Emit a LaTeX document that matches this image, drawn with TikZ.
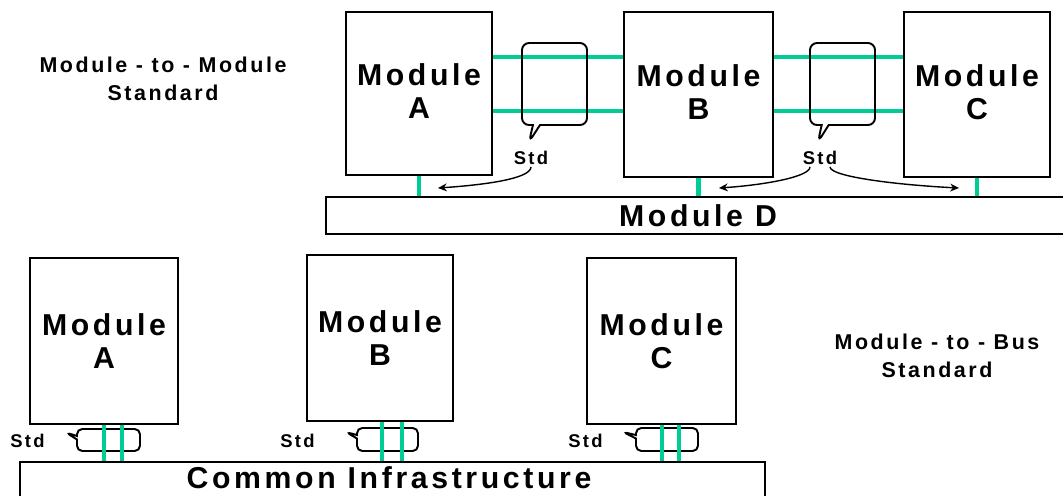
\documentclass[tikz,border=0pt]{standalone}
\usepackage{fontspec}
\setmainfont{Liberation Sans}
\newfontfamily\spacedsans[LetterSpace=12]{Liberation Sans}
\usepackage{tikz}
\usetikzlibrary{positioning,calc}
\usetikzlibrary{arrows.meta,shapes.callouts}
\definecolor{StdGreen}{RGB}{0,204,150}
\newcommand\modfnt{\spacedsans\bfseries\fontsize{17.2}{19}\selectfont}
\newcommand\notefnt{\spacedsans\bfseries\fontsize{12.2}{15.9}\selectfont}
\newcommand\stdfnt{\spacedsans\bfseries\fontsize{10.5}{12}\selectfont}
\tikzset{
  mod/.style={draw=black,line width=1.1pt,minimum width=146*0.02cm,
    minimum height=163*0.02cm,align=center,font=\modfnt,inner sep=0pt},
  bus/.style={draw=black,line width=1.1pt,inner sep=0pt},
  link/.style={draw=StdGreen,line width=2.8pt},
  bubble/.style={rectangle callout,draw=black,line width=1.1pt,
    rounded corners=4pt,callout pointer width=4pt,inner sep=0pt},
  stdtag/.style={font=\stdfnt,inner sep=1pt},
  note/.style={font=\notefnt,align=center},
  wire/.style={draw=black,line width=0.8pt,-{Stealth[length=5pt,width=4.5pt]}},
}

\begin{document}
\begin{tikzpicture}[x=0.02cm,y=-0.02cm]
\useasboundingbox (0,0) rectangle (1063,495);
\clip (0,0) rectangle (1063,495);
% module-to-module
\node[note] (mmnote) at (163,79) {Module - to - Module\\Standard};
\node[mod,text depth=0.1cm] (ta) at (419,93.5) {Module\\A};
\node[mod,text depth=0.1cm,minimum width=149*0.02cm,minimum height=165*0.02cm] (tb) at (698.5,94.5) {Module\\B};
\node[mod,text depth=0.1cm,minimum height=165*0.02cm] (tc) at (977,94.5) {Module\\C};
\node[bus,minimum width=744*0.02cm,minimum height=37*0.02cm,font=\modfnt] (md) at (698,215.5) {Module D};
\coordinate (hi) at (0,57);
\coordinate (lo) at (0,111);
\draw[link] (ta.east |- hi) -- (tb.west |- hi);
\draw[link] (ta.east |- lo) -- (tb.west |- lo);
\draw[link] (tb.east |- hi) -- (tc.west |- hi);
\draw[link] (tb.east |- lo) -- (tc.west |- lo);
\foreach \m in {ta,tb,tc}
  \draw[link] (\m.south) -- (\m.south |- md.north);
\node[bubble,minimum width=65*0.02cm,minimum height=82*0.02cm,
  callout absolute pointer={(529,142)}] (cab) at (554.5,84) {};
\node[bubble,minimum width=65*0.02cm,minimum height=82*0.02cm,
  callout absolute pointer={(818,142)}] (cbc) at (842.5,84) {};
\node[stdtag] (sab) at (531,158) {Std};
\node[stdtag] (sbc) at (820,158) {Std};
\coordinate (pa) at (438,188);
\coordinate (pb) at (719,188);
\coordinate (pc) at (959,188);
\draw[wire] (sab.south) .. controls +(0,12) and +(45,-3) .. (pa);
\draw[wire] ([xshift=-0.2cm]sbc.south) .. controls +(0,10) and +(45,-3) .. (pb);
\draw[wire] ([xshift=0.2cm]sbc.south) .. controls +(0,10) and +(-60,-3) .. (pc);
% module-to-bus
\node[note] (mbnote) at (937,356) {Module - to - Bus\\Standard};
\node[mod,minimum width=148*0.02cm,minimum height=166*0.02cm] (ba) at (104,341) {Module\\A};
\node[mod,minimum height=166*0.02cm] (bb) at (380,338) {Module\\B};
\node[mod,minimum width=149*0.02cm,minimum height=166*0.02cm] (bc) at (661.5,341) {Module\\C};
\node[bus,minimum width=745*0.02cm,minimum height=80*0.02cm,anchor=north] (ci) at (392.5,461) {};
\node[font=\modfnt] (citxt) at (389,477.5) {Common Infrastructure};
\node[bubble,rounded corners=3pt,callout pointer width=2pt,minimum width=63*0.02cm,
  minimum height=22*0.02cm,callout absolute pointer={(66,432.5)}] (ca) at (108.5,440) {};
\node[bubble,rounded corners=3pt,callout pointer width=2pt,minimum width=61*0.02cm,
  minimum height=23*0.02cm,callout absolute pointer={(346,432)}] (cb) at (387.5,439.5) {};
\node[bubble,rounded corners=3pt,callout pointer width=2pt,minimum width=62*0.02cm,
  minimum height=23*0.02cm,callout absolute pointer={(623,432)}] (cc) at (667,439.5) {};
\foreach \m/\dx in {ba/0,ba/18,bb/2,bb/22,bc/0.5,bc/17.5}
  \draw[link] (\m.south) ++(\dx,0) coordinate (t) -- (t |- ci.north);
\node[stdtag] (sa) at (27.5,441) {Std};
\node[stdtag] (sb) at (297.5,441) {Std};
\node[stdtag] (sc) at (585.5,441) {Std};
\end{tikzpicture}
\end{document}
